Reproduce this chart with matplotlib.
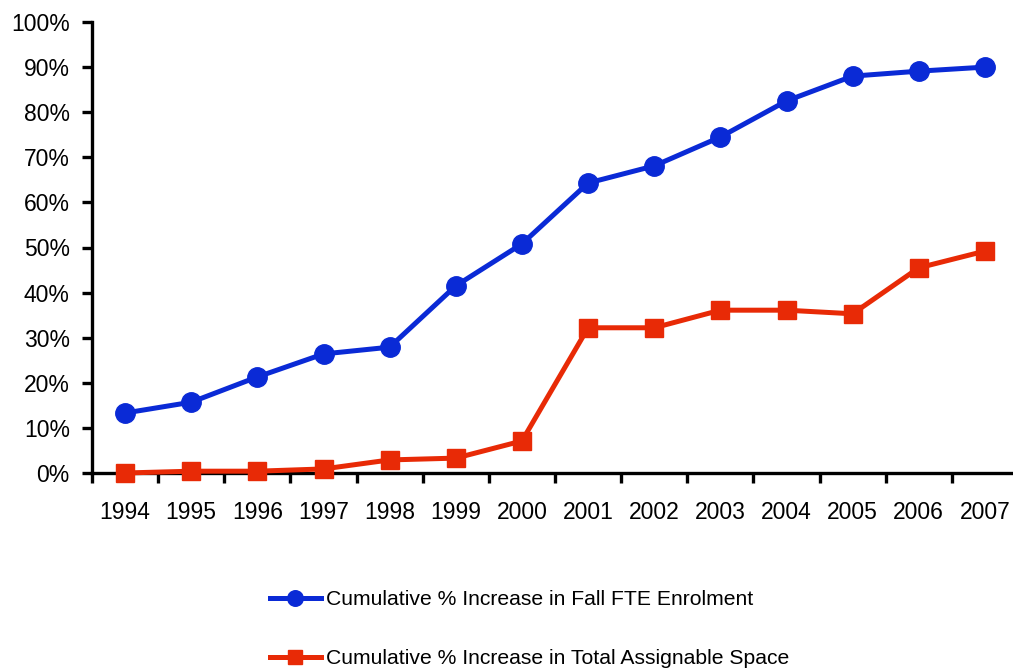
import matplotlib.pyplot as plt
from matplotlib.ticker import FuncFormatter

years = ['1994', '1995', '1996', '1997', '1998', '1999', '2000',
         '2001', '2002', '2003', '2004', '2005', '2006', '2007']
enrolment = [13.3, 15.7, 21.3, 26.4, 27.9, 41.5, 50.8,
             64.3, 68.1, 74.5, 82.5, 88.0, 89.1, 90.0]
space = [0.0, 0.4, 0.4, 0.9, 2.9, 3.3, 7.1,
         32.2, 32.2, 36.1, 36.1, 35.3, 45.5, 49.2]

plt.rcParams['font.family'] = ['Liberation Sans', 'DejaVu Sans']

fig = plt.figure(figsize=(10.13, 6.69), dpi=100)
ax = fig.add_axes([92 / 1013, 1 - 473 / 669, 926 / 1013, 451 / 669])

x = list(range(len(years)))
l1, = ax.plot(x, enrolment, color='#0a2ad6', lw=3.6, marker='o', ms=14,
              label='Cumulative % Increase in Fall FTE Enrolment', clip_on=False, zorder=3)
l2, = ax.plot(x, space, color='#e82a06', lw=3.6, marker='s', ms=13,
              label='Cumulative % Increase in Total Assignable Space', clip_on=False, zorder=4)

ax.set_xlim(-0.5, len(years) - 0.5)
ax.set_ylim(0, 100)
ax.set_yticks(range(0, 101, 10))
ax.yaxis.set_major_formatter(FuncFormatter(lambda v, p: '%d%%' % v))

# category labels centred, ticks on the boundaries between years
ax.set_xticks([i - 0.5 for i in range(len(years) + 1)])
ax.set_xticklabels([])
ax.set_xticks(x, minor=True)
ax.set_xticklabels(years, minor=True)
ax.tick_params(axis='x', which='major', direction='out', length=7, width=2.4)
ax.tick_params(axis='x', which='minor', length=0, pad=20, labelsize=16.5)
ax.tick_params(axis='y', direction='out', length=7, width=2.4, pad=9, labelsize=16.5)

for s in ['top', 'right']:
    ax.spines[s].set_visible(False)
for s in ['left', 'bottom']:
    ax.spines[s].set_linewidth(2.4)

fig.legend(handles=[l1, l2], loc='upper left', bbox_to_anchor=(270 / 1013, 1 - 590 / 669),
           frameon=False, fontsize=15.2, handlelength=2.4, handletextpad=0.25,
           labelspacing=1.9, borderaxespad=0, borderpad=0, markerscale=0.8)

fig.savefig('out.png', dpi=100)
